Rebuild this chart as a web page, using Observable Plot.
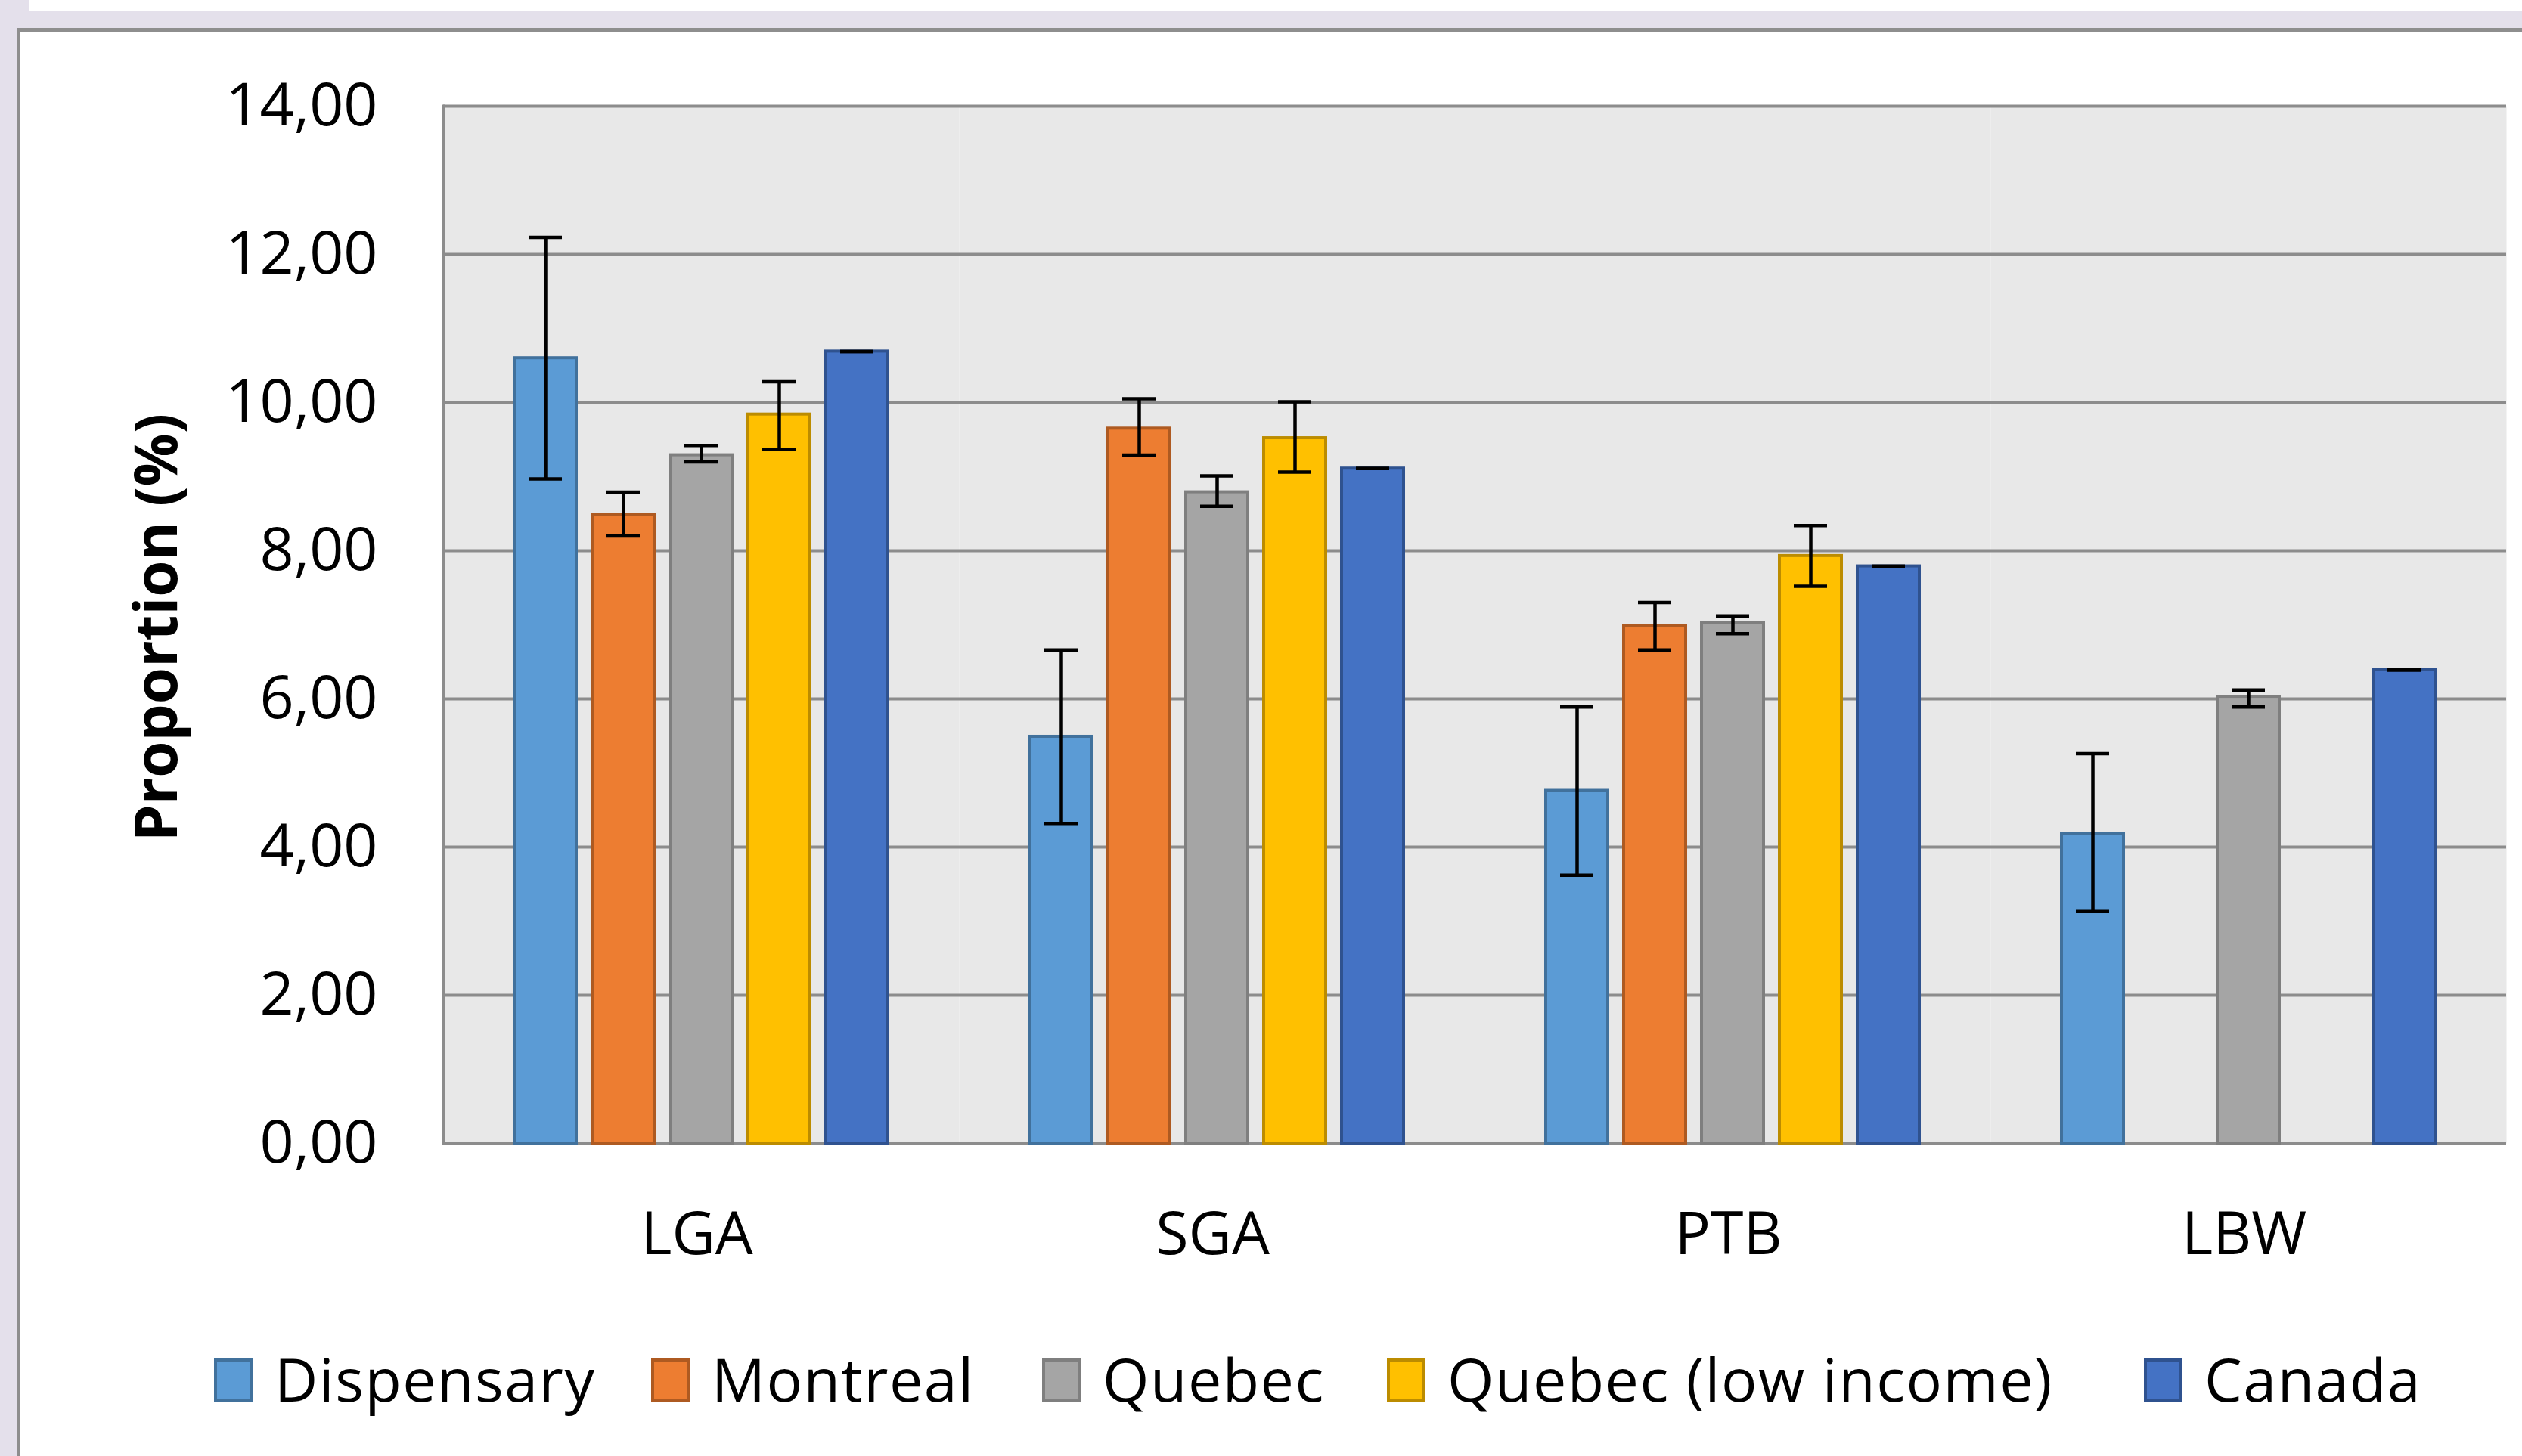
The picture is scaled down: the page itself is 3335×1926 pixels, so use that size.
<!DOCTYPE html>
<html>
<head>
<meta charset="utf-8">
<script src="https://cdn.jsdelivr.net/npm/d3@7"></script>
<script src="https://cdn.jsdelivr.net/npm/@observablehq/plot@0.6"></script>
<style>
  html, body { margin: 0; padding: 0; }
  body { width: 3335px; height: 1926px; overflow: hidden; position: relative; background: #e4e0eb; font-family: "Open Sans", sans-serif; }
  #topstrip { position: absolute; left: 39px; top: 0; width: 3400px; height: 15px; background: #fff; }
  #box { position: absolute; left: 22px; top: 37px; width: 3500px; height: 2100px; border: 5px solid #8e8e8e; background: #fff; box-sizing: border-box; }
  #chart { position: absolute; left: 0; top: 0; }
  #ytitle { position: absolute; left: 204px; top: 830px; transform: translate(-50%, -50%) rotate(-90deg); font-weight: bold; font-size: 78px; white-space: nowrap; color: #000; }
  #legend { position: absolute; left: 0; top: 1797px; width: 3335px; height: 57px; font-size: 79px; color: #000; }
  .item { position: absolute; top: 0; display: flex; align-items: center; gap: 29px; height: 57px; }
  .sw { width: 51px; height: 57px; box-sizing: border-box; border: 4px solid; }
  .lab { line-height: 57px; white-space: nowrap; position: relative; top: -2px; letter-spacing: 1.5px; }
</style>
</head>
<body>
<div id="topstrip"></div>
<div id="box"></div>
<div id="chart"></div>
<div id="ytitle">Proportion (%)</div>
<div id="legend"></div>
<script>
// ---- data ----
const categories = ["LGA", "SGA", "PTB", "LBW"];
const series = ["Dispensary", "Montreal", "Quebec", "Quebec (low income)", "Canada"];
const yTicks = [0, 2, 4, 6, 8, 10, 12, 14];

const dispensary   = [10.60, 5.49, 4.76, 4.18];
const dispensaryLo = [8.97, 4.32, 3.62, 3.13];
const dispensaryHi = [12.23, 6.66, 5.89, 5.26];

const montreal   = [8.48, 9.65, 6.98, null];
const montrealLo = [8.20, 9.29, 6.66, null];
const montrealHi = [8.79, 10.05, 7.30, null];

const quebec   = [9.29, 8.79, 7.03, 6.03];
const quebecLo = [9.20, 8.60, 6.88, 5.89];
const quebecHi = [9.42, 9.01, 7.12, 6.12];

const quebecLow   = [9.84, 9.52, 7.93, null];
const quebecLowLo = [9.37, 9.06, 7.52, null];
const quebecLowHi = [10.28, 10.01, 8.34, null];

const canada   = [10.69, 9.11, 7.79, 6.39];
const canadaLo = [10.69, 9.11, 7.79, 6.39];
const canadaHi = [10.69, 9.11, 7.79, 6.39];

const fills   = ["#5b9bd5", "#ed7d31", "#a5a5a5", "#ffc000", "#4472c4"];
const strokes = ["#41719c", "#ae5a21", "#7f7f7f", "#bc8c00", "#2f528f"];

// legend item left positions (layout)
const legendLeft = [283, 861, 1378, 1834, 2835];

// ---- build table ----
const values = [dispensary, montreal, quebec, quebecLow, canada];
const los = [dispensaryLo, montrealLo, quebecLo, quebecLowLo, canadaLo];
const his = [dispensaryHi, montrealHi, quebecHi, quebecLowHi, canadaHi];
const rows = [];
categories.forEach((c, i) => {
  series.forEach((s, j) => {
    if (values[j][i] != null) rows.push({group: c, series: s, si: j, value: values[j][i], lo: los[j][i], hi: his[j][i]});
  });
});

const fmt = d => d.toFixed(2).replace(".", ",");

const chart = Plot.plot({
  width: 3335,
  height: 1700,
  marginLeft: 585,
  marginRight: 20,
  marginTop: 140,
  marginBottom: 188,
  style: {background: "transparent", fontFamily: "'Open Sans', sans-serif", color: "#000", overflow: "visible", maxWidth: "none"},
  fx: {domain: categories, padding: 0, label: null},
  x: {domain: series, paddingInner: 0.2, paddingOuter: 0.91, axis: null},
  y: {domain: [0, 14], axis: null},
  color: {type: "identity"},
  marks: [
    Plot.frame({fill: "#e8e8e8", stroke: "none"}),
    Plot.ruleY(yTicks, {stroke: "#8c8c8c", strokeWidth: 4}),
    Plot.frame({anchor: "left", stroke: "#8c8c8c", strokeWidth: 4, facetAnchor: "left"}),
    Plot.barY(rows, {fx: "group", x: "series", y: "value", fill: d => fills[d.si], stroke: d => strokes[d.si], strokeWidth: 4}),
    Plot.ruleX(rows, {fx: "group", x: "series", y1: "lo", y2: "hi", stroke: "#000", strokeWidth: 4.5}),
    Plot.tickY(rows, {fx: "group", x: "series", y: "lo", stroke: "#000", strokeWidth: 4.5, insetLeft: 19, insetRight: 19}),
    Plot.tickY(rows, {fx: "group", x: "series", y: "hi", stroke: "#000", strokeWidth: 4.5, insetLeft: 19, insetRight: 19}),
    Plot.axisY({ticks: yTicks, tickFormat: fmt, tickSize: 0, tickPadding: 87, fontSize: 79, label: null}),
    Plot.axisFx({anchor: "bottom", tickSize: 0, tickPadding: 90, fontSize: 79, label: null, dx: -6})
  ]
});
document.getElementById("chart").appendChild(chart);

// ---- legend ----
const legend = document.getElementById("legend");
series.forEach((s, j) => {
  const item = document.createElement("div");
  item.className = "item";
  item.style.left = legendLeft[j] + "px";
  const sw = document.createElement("div");
  sw.className = "sw";
  sw.style.background = fills[j];
  sw.style.borderColor = strokes[j];
  const lab = document.createElement("div");
  lab.className = "lab";
  lab.textContent = s;
  item.appendChild(sw);
  item.appendChild(lab);
  legend.appendChild(item);
});
</script>
</body>
</html>
